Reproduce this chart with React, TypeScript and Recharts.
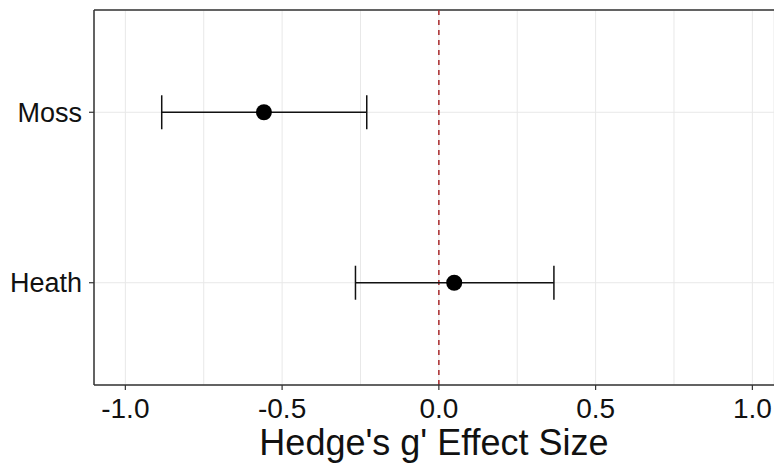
import React from 'react';
import {
  ScatterChart,
  Scatter,
  XAxis,
  YAxis,
  CartesianGrid,
  ErrorBar,
  ReferenceLine,
  Label,
} from 'recharts';

// bottom to top, as drawn
const categories = ['Heath', 'Moss'];
const effectSize = [0.049, -0.558];
const lowerCI = [-0.266, -0.884];
const upperCI = [0.367, -0.23];

const majorTicks = [-1, -0.5, 0, 0.5, 1];
const minorTicks = [-0.75, -0.25, 0.25, 0.75];

const FONT = '"Liberation Sans", Arial, sans-serif';
const INK = '#111';
const FRAME = '#333';

const data = categories.map((name, i) => ({
  name,
  pos: i + 1,
  g: effectSize[i],
  err: [effectSize[i] - lowerCI[i], upperCI[i] - effectSize[i]],
}));

const allTicks = [...majorTicks, ...minorTicks].sort((a, b) => a - b);

function XTick(props: any) {
  const { x, y, payload } = props;
  if (!majorTicks.includes(payload.value)) return null;
  return (
    <g>
      <line x1={x} x2={x} y1={y - 13} y2={y - 8} stroke={FRAME} strokeWidth={1.2} />
      <text x={x} y={y} dy="0.71em" textAnchor="middle" fontSize={28} fontFamily={FONT} fill={INK}>
        {payload.value.toFixed(1)}
      </text>
    </g>
  );
}

const Dot = (p: any) => <circle cx={p.cx} cy={p.cy} r={8} fill="#000" />;

export default function App() {
  return (
    <div style={{ position: 'absolute', left: 0, top: 0, background: '#fff' }}>
      <ScatterChart width={774} height={466} margin={{ top: 10, right: 0, bottom: 0, left: 0 }}>
        <CartesianGrid stroke="#e8e8e8" strokeWidth={1} />
        <XAxis
          type="number"
          dataKey="g"
          domain={[-1.1, 1.069]}
          ticks={allTicks}
          interval={0}
          height={81}
          tickSize={5}
          tickMargin={8}
          tickLine={false}
          tick={<XTick />}
          axisLine={{ stroke: FRAME, strokeWidth: 1.5 }}
          allowDataOverflow
        >
          <Label
            value="Hedge's g' Effect Size"
            position="insideBottom"
            offset={11}
            style={{ fontSize: 36, fontFamily: FONT, fill: INK }}
          />
        </XAxis>
        <YAxis
          type="number"
          dataKey="pos"
          domain={[0.4, 2.6]}
          ticks={[1, 2]}
          width={94}
          tickSize={5}
          tickMargin={7}
          tickFormatter={(v: number) => categories[v - 1]}
          tick={{ fontSize: 27, fontFamily: FONT, fill: INK }}
          tickLine={{ stroke: FRAME, strokeWidth: 1.2 }}
          axisLine={{ stroke: FRAME, strokeWidth: 1.5 }}
          allowDataOverflow
        />
        <ReferenceLine y={2.6} stroke={FRAME} strokeWidth={1.5} />
        <ReferenceLine x={0} stroke="#a8282a" strokeWidth={1.5} strokeDasharray="5 5" />
        <Scatter data={data} shape={Dot} isAnimationActive={false}>
          <ErrorBar dataKey="err" direction="x" width={17} stroke="#111" strokeWidth={1.5} />
        </Scatter>
      </ScatterChart>
    </div>
  );
}
